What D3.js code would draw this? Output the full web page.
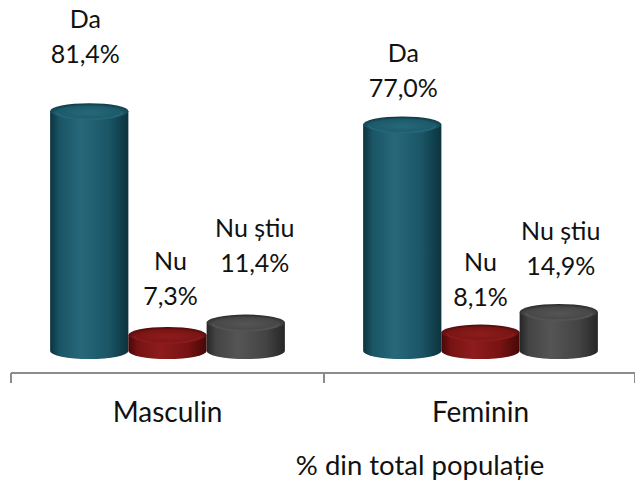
<!DOCTYPE html>
<html>
<head>
<meta charset="utf-8">
<script src="https://cdn.jsdelivr.net/npm/d3@7"></script>
<style>
  html, body { margin: 0; padding: 0; background: #fff; }
  svg { display: block; font-family: Lato, "Open Sans", sans-serif; }
</style>
</head>
<body>
<svg id="chart" width="635" height="480"></svg>
<script>
// ---- data ----
const categories = ["Masculin", "Feminin"];
const seriesNames = ["Da", "Nu", "Nu știu"];
const daValues = [81.4, 77.0];
const nuValues = [7.3, 8.1];
const nuStiuValues = [11.4, 14.9];
const valueLabels = [["81,4%", "7,3%", "11,4%"], ["77,0%", "8,1%", "14,9%"]];
const axisTitle = "% din total populație";

// ---- layout ----
const W = 635, H = 480;
const svg = d3.select("#chart");
const seriesValues = [daValues, nuValues, nuStiuValues];
const colors = [
  { dark: "#0c333e", mid: "#1a5565", light: "#26687a", top: "#1c5a6a" },
  { dark: "#470808", mid: "#781313", light: "#8e1c1c", top: "#7a1515" },
  { dark: "#262626", mid: "#444444", light: "#555555", top: "#474747" }
];
// label offsets (gap above bar top, horizontal nudge) per category/series
const labelGap = [[40, 22, 43], [19, 19, 29]];
const labelDx = [[-4, 3, 9], [1, 0, 2]];

const x = d3.scaleBand().domain(categories).range([11, 637]).paddingInner(0).paddingOuter(0);
const xs = d3.scaleBand().domain(seriesNames).range([0, x.bandwidth()]).paddingInner(0).paddingOuter(0.5);
const y = d3.scaleLinear().domain([0, 100]).range([357, 55]);
const baseY = y(0) - 6;
const ry = 8;

const defs = svg.append("defs");
colors.forEach((c, i) => {
  const g = defs.append("linearGradient").attr("id", "body" + i)
    .attr("x1", "0%").attr("x2", "100%").attr("y1", "0%").attr("y2", "0%");
  g.append("stop").attr("offset", "0%").attr("stop-color", c.dark);
  g.append("stop").attr("offset", "12%").attr("stop-color", c.mid);
  g.append("stop").attr("offset", "40%").attr("stop-color", c.light);
  g.append("stop").attr("offset", "75%").attr("stop-color", c.mid);
  g.append("stop").attr("offset", "100%").attr("stop-color", c.dark);
  const t = defs.append("radialGradient").attr("id", "top" + i)
    .attr("cx", "50%").attr("cy", "60%").attr("r", "60%");
  t.append("stop").attr("offset", "0%").attr("stop-color", c.light);
  t.append("stop").attr("offset", "70%").attr("stop-color", c.top);
  t.append("stop").attr("offset", "100%").attr("stop-color", c.dark);
});

// axis
const axisY = 373;
svg.append("line").attr("x1", 11).attr("x2", W).attr("y1", axisY).attr("y2", axisY)
  .attr("stroke", "#8c8c8c").attr("stroke-width", 2);
const tickXs = categories.map(c => x(c)).concat([x.range()[1] - 2]);
svg.selectAll(".tick").data(tickXs).enter().append("line")
  .attr("x1", d => d).attr("x2", d => d).attr("y1", axisY).attr("y2", axisY + 10)
  .attr("stroke", "#8c8c8c").attr("stroke-width", 2);

// bars
const data = [];
categories.forEach((cat, ci) => {
  seriesNames.forEach((s, si) => {
    data.push({ cat, ci, s, si, v: seriesValues[si][ci], label: valueLabels[ci][si] });
  });
});

const bars = svg.selectAll(".bar").data(data).enter().append("g").attr("class", "bar");
bars.each(function(d) {
  const g = d3.select(this);
  const x0 = x(d.cat) + xs(d.s);
  const w = xs.bandwidth();
  const cx = x0 + w / 2, rx = w / 2;
  const yt = y(d.v);
  g.append("path")
    .attr("d", `M${x0},${yt} L${x0},${baseY} A${rx},${ry} 0 0 0 ${x0 + w},${baseY} L${x0 + w},${yt} Z`)
    .attr("fill", `url(#body${d.si})`);
  g.append("ellipse").attr("cx", cx).attr("cy", yt).attr("rx", rx).attr("ry", ry)
    .attr("fill", `url(#top${d.si})`);
  g.append("path")
    .attr("d", `M${x0 + 6},${yt + 1} A${rx - 6},${ry - 1} 0 0 0 ${x0 + w - 6},${yt + 1}`)
    .attr("fill", "none").attr("stroke", colors[d.si].light).attr("stroke-width", 2).attr("opacity", 0.8);
});

// labels
const labels = svg.selectAll(".lbl").data(data).enter().append("text")
  .attr("class", "lbl")
  .attr("text-anchor", "middle")
  .attr("font-size", 25)
  .attr("fill", "#111");
labels.each(function(d) {
  const t = d3.select(this);
  const cx = x(d.cat) + xs(d.s) + xs.bandwidth() / 2 + labelDx[d.ci][d.si];
  const yb = y(d.v) - ry - labelGap[d.ci][d.si];
  t.append("tspan").attr("x", cx).attr("y", yb - 35).text(d.s);
  t.append("tspan").attr("x", cx).attr("y", yb).text(d.label);
});

// category labels
svg.selectAll(".cat").data(categories).enter().append("text")
  .attr("x", d => x(d) + x.bandwidth() / 2)
  .attr("y", 422)
  .attr("text-anchor", "middle")
  .attr("font-size", 28)
  .attr("fill", "#111")
  .text(d => d);

svg.append("text").attr("x", 420).attr("y", 475).attr("text-anchor", "middle")
  .attr("font-size", 27.5).attr("fill", "#111").text(axisTitle);
</script>
</body>
</html>
